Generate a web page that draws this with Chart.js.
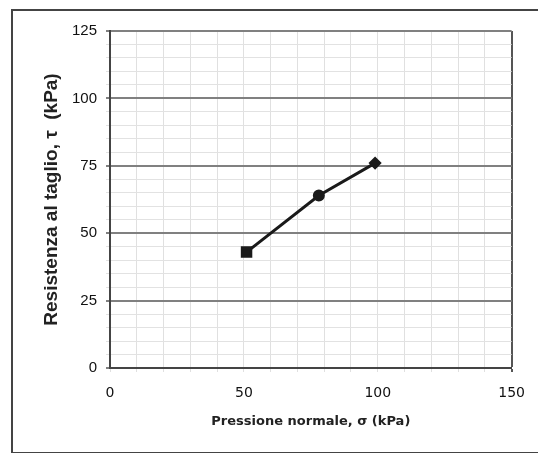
<!DOCTYPE html>
<html>
<head>
<meta charset="utf-8">
<script src="https://cdn.jsdelivr.net/npm/chart.js@4"></script>
<style>
  html, body { margin: 0; padding: 0; background: #fff; }
  #wrap { position: relative; width: 538px; height: 453px; overflow: hidden; }
  #frame { position: absolute; left: 11px; top: 9px; width: 560px; height: 441px;
           border: 2px solid #444; border-right: none; }
  canvas { position: absolute; left: 0; top: 0; }
</style>
</head>
<body>
<div id="wrap">
  <div id="frame"></div>
  <canvas id="chart" width="538" height="453"></canvas>
</div>
<script>
// valori
const sigma = [51, 78, 99];
const tau = [43, 64, 76];
const markers = ['rect', 'circle', 'rectRot'];
const markerSizes = [6, 4.5, 4.5];

const xTitle = 'Pressione normale, σ (kPa)';
const yTitle = 'Resistenza al taglio, τ  (kPa)';

new Chart(document.getElementById('chart'), {
  type: 'scatter',
  data: {
    datasets: [{
      data: sigma.map((s, i) => ({ x: s, y: tau[i] })),
      showLine: true,
      borderColor: '#1a1a1a',
      borderWidth: 3,
      backgroundColor: '#1a1a1a',
      pointStyle: markers,
      pointRadius: markerSizes,
    }],
  },
  options: {
    responsive: false,
    animation: false,
    layout: { padding: { left: 37, right: 26, top: 31, bottom: 24 } },
    plugins: { legend: { display: false }, tooltip: { enabled: false } },
    scales: {
      x: {
        type: 'linear',
        min: 0, max: 150,
        afterFit: s => { s.height = 61; },
        ticks: {
          stepSize: 10,
          autoSkip: false,
          maxRotation: 0,
          minRotation: 0,
          padding: 13,
          color: '#111',
          font: { family: 'DejaVu Sans', size: 14 },
          callback: v => (v % 50 === 0 ? v : ''),
        },
        grid: {
          color: c => (c.tick.value === 150 ? '#555' : '#e0e0e0'),
          lineWidth: c => (c.tick.value === 150 ? 2 : 1),
          tickLength: 4,
        },
        border: { color: '#444', width: 2 },
        title: {
          display: true,
          text: xTitle,
          color: '#222',
          font: { family: 'DejaVu Sans', size: 13, weight: 'bold' },
          padding: { top: 0, bottom: 0 },
        },
      },
      y: {
        min: 0, max: 125,
        afterFit: s => { s.width = 73; },
        ticks: {
          stepSize: 5,
          autoSkip: false,
          padding: 9,
          color: '#111',
          font: { family: 'Liberation Sans', size: 15 },
          callback: v => (v % 25 === 0 ? v : ''),
        },
        grid: {
          color: c => (c.tick.value % 25 === 0 ? '#808080' : '#e2e2e2'),
          lineWidth: c => (c.tick.value % 25 === 0 ? 2 : 1),
          tickLength: 4,
        },
        border: { color: '#444', width: 2 },
        title: {
          display: true,
          text: yTitle,
          color: '#222',
          font: { family: 'Liberation Sans', size: 19, weight: 'bold' },
          padding: { top: 3 },
        },
      },
    },
  },
});
</script>
</body>
</html>
